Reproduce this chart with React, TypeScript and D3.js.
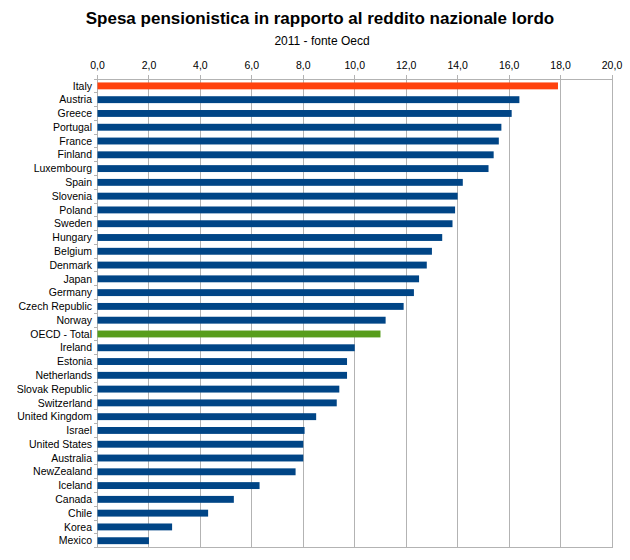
import { useEffect, useRef } from "react";
import * as d3 from "d3";

const countries = [
  "Italy", "Austria", "Greece", "Portugal", "France", "Finland", "Luxembourg",
  "Spain", "Slovenia", "Poland", "Sweden", "Hungary", "Belgium", "Denmark",
  "Japan", "Germany", "Czech Republic", "Norway", "OECD - Total", "Ireland",
  "Estonia", "Netherlands", "Slovak Republic", "Switzerland", "United Kingdom",
  "Israel", "United States", "Australia", "NewZealand", "Iceland", "Canada",
  "Chile", "Korea", "Mexico",
];

const spending = [
  17.9, 16.4, 16.1, 15.7, 15.6, 15.4, 15.2,
  14.2, 14.0, 13.9, 13.8, 13.4, 13.0, 12.8,
  12.5, 12.3, 11.9, 11.2, 11.0, 10.0,
  9.7, 9.7, 9.4, 9.3, 8.5,
  8.05, 8.0, 8.0, 7.7, 6.3, 5.3,
  4.3, 2.9, 2.0,
];

const xTicks = [0, 2, 4, 6, 8, 10, 12, 14, 16, 18, 20];

const BLUE = "#004586";
const ORANGE = "#ff420e";
const GREEN = "#579d1c";
const GRID = "#b3b3b3";
const FONT = "'Liberation Sans', Arial, sans-serif";

function barColor(name: string): string {
  if (name === "Italy") return ORANGE;
  if (name === "OECD - Total") return GREEN;
  return BLUE;
}

export default function App() {
  const svgRef = useRef<SVGSVGElement>(null);

  useEffect(() => {
    const el = svgRef.current;
    if (!el) return;

    const w = 630;
    const h = 560;
    const left = 97.5;
    const right = 612;
    const top = 79;
    const bottom = 547.6;

    d3.select(el).selectAll("*").remove();
    const svg = d3.select(el).attr("width", w).attr("height", h);

    svg.append("rect").attr("width", w).attr("height", h).attr("fill", "#fff");

    const data = countries.map((c, i) => ({ name: c, value: spending[i] }));

    const x = d3.scaleLinear().domain([0, 20]).range([left, right]);
    const y = d3
      .scaleBand<string>()
      .domain(countries)
      .range([top, bottom])
      .paddingInner(0.5)
      .paddingOuter(0.25);

    // Titles
    svg
      .append("text")
      .attr("x", 320)
      .attr("y", 23.5)
      .attr("text-anchor", "middle")
      .attr("font-family", FONT)
      .attr("font-size", 17)
      .attr("font-weight", "700")
      .attr("fill", "#000")
      .text("Spesa pensionistica in rapporto al reddito nazionale lordo");

    svg
      .append("text")
      .attr("x", 322)
      .attr("y", 45)
      .attr("text-anchor", "middle")
      .attr("font-family", FONT)
      .attr("font-size", 12)
      .attr("fill", "#000")
      .text("2011 - fonte Oecd");

    // Vertical grid lines (with small outward ticks above)
    const g = svg.append("g").attr("shape-rendering", "crispEdges");
    g.selectAll("line.grid")
      .data(xTicks)
      .join("line")
      .attr("class", "grid")
      .attr("x1", (d) => x(d))
      .attr("x2", (d) => x(d))
      .attr("y1", top - 4)
      .attr("y2", bottom)
      .attr("stroke", GRID)
      .attr("stroke-width", 1);

    // Frame lines
    g.append("line")
      .attr("x1", left).attr("x2", right)
      .attr("y1", top).attr("y2", top)
      .attr("stroke", GRID);
    g.append("line")
      .attr("x1", left).attr("x2", right)
      .attr("y1", bottom).attr("y2", bottom)
      .attr("stroke", GRID);

    // Category ticks on left axis
    const step = y.step();
    const bounds = d3.range(countries.length + 1).map((i) => top + i * step);
    g.selectAll("line.ytick")
      .data(bounds)
      .join("line")
      .attr("class", "ytick")
      .attr("x1", left - 4)
      .attr("x2", left)
      .attr("y1", (d) => d)
      .attr("y2", (d) => d)
      .attr("stroke", GRID);

    // Bars
    svg
      .append("g")
      .selectAll("rect")
      .data(data)
      .join("rect")
      .attr("x", x(0))
      .attr("y", (d) => y(d.name)!)
      .attr("width", (d) => x(d.value) - x(0))
      .attr("height", y.bandwidth())
      .attr("fill", (d) => barColor(d.name));

    // Top tick labels
    svg
      .append("g")
      .selectAll("text")
      .data(xTicks)
      .join("text")
      .attr("x", (d) => x(d))
      .attr("y", 69)
      .attr("text-anchor", "middle")
      .attr("font-family", FONT)
      .attr("font-size", 10.5)
      .attr("fill", "#000")
      .text((d) => d3.format(".1f")(d).replace(".", ","));

    // Category labels
    svg
      .append("g")
      .selectAll("text")
      .data(countries)
      .join("text")
      .attr("x", 92)
      .attr("y", (d) => y(d)! + y.bandwidth() / 2)
      .attr("dy", "0.35em")
      .attr("text-anchor", "end")
      .attr("font-family", FONT)
      .attr("font-size", 10.5)
      .attr("fill", "#000")
      .text((d) => d);
  }, []);

  return (
    <svg
      ref={svgRef}
      style={{ position: "absolute", left: 0, top: 0, display: "block" }}
    />
  );
}
